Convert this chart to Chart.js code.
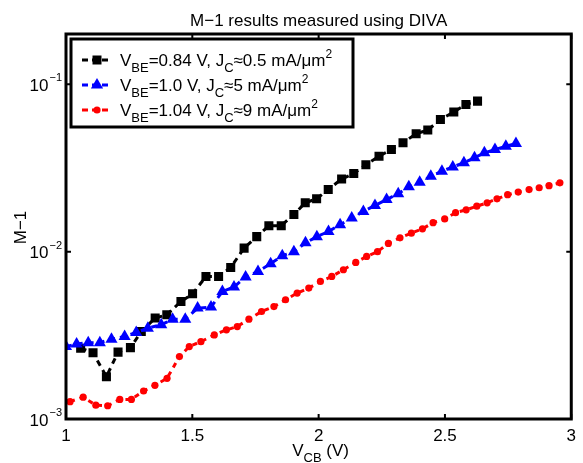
<!DOCTYPE html>
<html>
<head>
<meta charset="utf-8">
<script src="https://cdn.jsdelivr.net/npm/chart.js@4.4.0/dist/chart.umd.min.js"></script>
<style>
html, body { margin: 0; padding: 0; background: #fff; }
#wrap { width: 583px; height: 463px; }
</style>
</head>
<body>
<div id="wrap"><canvas id="m1Chart"></canvas></div>
<script>
// V_CB values (V) and M-1 values
var vcbLow = [1.058, 1.107, 1.16, 1.206, 1.255, 1.298, 1.353, 1.399, 1.455, 1.501, 1.554, 1.604, 1.652, 1.705, 1.755, 1.803, 1.852, 1.902, 1.947,
              1.992, 2.038, 2.091, 2.139, 2.187, 2.239, 2.288, 2.334, 2.386, 2.432, 2.482, 2.535, 2.583, 2.629];
var m1Low = [2.65e-3, 2.49e-3, 1.79e-3, 2.51e-3, 2.67e-3, 3.33e-3, 4.01e-3, 4.20e-3, 5.04e-3, 5.60e-3, 7.11e-3, 7.11e-3, 8.05e-3, 1.05e-2, 1.23e-2, 1.43e-2, 1.43e-2, 1.67e-2, 1.96e-2,
             2.07e-2, 2.35e-2, 2.72e-2, 2.93e-2, 3.31e-2, 3.72e-2, 4.08e-2, 4.48e-2, 5.07e-2, 5.33e-2, 6.17e-2, 6.83e-2, 7.59e-2, 7.94e-2];

var vcbMid = [1.0, 1.042, 1.088, 1.134, 1.18, 1.232, 1.278, 1.324, 1.377, 1.422, 1.472, 1.521, 1.574, 1.619, 1.665, 1.711, 1.76, 1.81, 1.856, 1.902,
              1.948, 1.993, 2.039, 2.085, 2.131, 2.177, 2.223, 2.269, 2.315, 2.357, 2.4, 2.444, 2.488, 2.531, 2.575, 2.617, 2.656, 2.698, 2.741, 2.781];
var m1Mid = [2.71e-3, 2.81e-3, 2.86e-3, 2.86e-3, 3.00e-3, 3.11e-3, 3.29e-3, 3.49e-3, 3.66e-3, 3.95e-3, 3.95e-3, 4.60e-3, 4.67e-3, 5.78e-3, 6.15e-3, 7.06e-3, 7.62e-3, 8.48e-3, 9.46e-3, 1.00e-2,
             1.13e-2, 1.23e-2, 1.32e-2, 1.45e-2, 1.59e-2, 1.74e-2, 1.89e-2, 2.05e-2, 2.22e-2, 2.44e-2, 2.60e-2, 2.82e-2, 3.03e-2, 3.21e-2, 3.40e-2, 3.64e-2, 3.90e-2, 4.08e-2, 4.27e-2, 4.43e-2];

var vcbHigh = [1.016, 1.068, 1.118, 1.165, 1.213, 1.259, 1.307, 1.352, 1.40, 1.449, 1.488, 1.534, 1.587, 1.635, 1.678, 1.724, 1.774, 1.823, 1.869,
               1.915, 1.961, 2.007, 2.052, 2.098, 2.147, 2.19, 2.233, 2.276, 2.322, 2.367, 2.411, 2.453, 2.499, 2.542, 2.584, 2.626, 2.667, 2.706, 2.748,
               2.79, 2.833, 2.873, 2.912, 2.955];
var m1High = [1.27e-3, 1.35e-3, 1.21e-3, 1.20e-3, 1.31e-3, 1.31e-3, 1.47e-3, 1.59e-3, 1.75e-3, 2.36e-3, 2.71e-3, 2.90e-3, 3.18e-3, 3.41e-3, 3.57e-3, 3.95e-3, 4.39e-3, 4.70e-3, 5.16e-3,
              5.66e-3, 6.06e-3, 6.64e-3, 7.11e-3, 7.80e-3, 8.63e-3, 9.37e-3, 1.00e-2, 1.12e-2, 1.21e-2, 1.29e-2, 1.37e-2, 1.49e-2, 1.57e-2, 1.71e-2, 1.78e-2, 1.87e-2, 1.96e-2,
              2.07e-2, 2.19e-2, 2.27e-2, 2.35e-2, 2.41e-2, 2.48e-2, 2.58e-2];

// tick labels
var xTicks = [1, 1.5, 2, 2.5, 3];
var yTicks = [0.001, 0.01, 0.1];
var yTickExp = ['\u22123', '\u22122', '\u22121'];

// legend text pieces
var vbeLabels = ['=0.84 V, J', '=1.0 V, J', '=1.04 V, J'];
var jcLabels = ['\u22480.5 mA/\u03bcm', '\u22485 mA/\u03bcm', '\u22489 mA/\u03bcm'];

var chartTitle = 'M\u22121 results measured using DIVA';

function toPoints(xs, ys) {
    return xs.map(function (x, i) { return { x: x, y: ys[i] }; });
}

var FONT = '"Liberation Sans", Arial, Helvetica, sans-serif';
Chart.defaults.font.family = FONT;
Chart.defaults.color = '#000';

// draw a string made of normal / sub / sup pieces, left aligned at x, baseline y
function drawRich(ctx, x, y, parts, size) {
    parts.forEach(function (p) {
        var s = size, dy = 0;
        if (p.k === 'sub') { s = 13; dy = 6; }
        if (p.k === 'sup') { s = 12; dy = -8; }
        ctx.font = s + 'px ' + FONT;
        ctx.fillText(p.t, x, y + dy);
        x += ctx.measureText(p.t).width;
    });
    return x;
}

function drawMarker(ctx, style, x, y, color) {
    ctx.fillStyle = color;
    ctx.beginPath();
    if (style === 'rect') {
        ctx.rect(x - 4.5, y - 4.5, 9, 9);
    } else if (style === 'triangle') {
        ctx.moveTo(x, y - 7);
        ctx.lineTo(x + 6.1, y + 3.5);
        ctx.lineTo(x - 6.1, y + 3.5);
        ctx.closePath();
    } else {
        ctx.arc(x, y, 3.6, 0, Math.PI * 2);
    }
    ctx.fill();
}

var framePlugin = {
    id: 'frame',
    afterDraw: function (chart) {
        var ctx = chart.ctx, a = chart.chartArea;
        var xs = chart.scales.x, ys = chart.scales.y;
        ctx.save();
        ctx.setLineDash([]);
        ctx.strokeStyle = '#000';

        // inward tick marks
        ctx.lineWidth = 2;
        xTicks.forEach(function (v) {
            var px = xs.getPixelForValue(v);
            ctx.beginPath();
            ctx.moveTo(px, a.bottom); ctx.lineTo(px, a.bottom - 5);
            ctx.moveTo(px, a.top); ctx.lineTo(px, a.top + 5);
            ctx.stroke();
        });
        yTicks.forEach(function (v) {
            var py = ys.getPixelForValue(v);
            ctx.beginPath();
            ctx.moveTo(a.left, py); ctx.lineTo(a.left + 5, py);
            ctx.moveTo(a.right, py); ctx.lineTo(a.right - 5, py);
            ctx.stroke();
        });

        // axes box
        ctx.lineWidth = 3;
        ctx.strokeRect(a.left, a.top, a.right - a.left, a.bottom - a.top);

        // title
        var cx = (a.left + a.right) / 2;
        ctx.fillStyle = '#000';
        ctx.textAlign = 'center';
        ctx.textBaseline = 'alphabetic';
        ctx.font = '17px ' + FONT;
        ctx.fillText(chartTitle, cx, 25.5);

        // y tick labels 10^n
        ctx.textBaseline = 'middle';
        ctx.textAlign = 'left';
        yTicks.forEach(function (v, i) {
            var py = ys.getPixelForValue(v);
            ctx.font = '11px ' + FONT;
            var wExp = ctx.measureText(yTickExp[i]).width;
            ctx.font = '17px ' + FONT;
            var wBase = ctx.measureText('10').width;
            var x0 = a.left - 4 - wExp - wBase - 1;
            ctx.fillText('10', x0, py + 2);
            ctx.font = '11px ' + FONT;
            ctx.fillText(yTickExp[i], x0 + wBase + 1, py - 6);
        });

        // axis titles
        ctx.textBaseline = 'alphabetic';
        var parts = [{ t: 'V' }, { t: 'CB', k: 'sub' }, { t: ' (V)' }];
        var w = 0;
        parts.forEach(function (p) {
            ctx.font = (p.k === 'sub' ? 13 : 17) + 'px ' + FONT;
            w += ctx.measureText(p.t).width;
        });
        drawRich(ctx, cx - w / 2 + 2, 456, parts, 17);

        ctx.save();
        ctx.translate(26, (a.top + a.bottom) / 2 + 1);
        ctx.rotate(-Math.PI / 2);
        ctx.font = '17px ' + FONT;
        ctx.textAlign = 'center';
        ctx.fillText('M\u22121', 0, 0);
        ctx.restore();

        // legend
        var lx = 71, ly = 39, lw = 282, lh = 88;
        ctx.fillStyle = '#fff';
        ctx.fillRect(lx, ly, lw, lh);
        ctx.lineWidth = 3;
        ctx.strokeStyle = '#000';
        ctx.strokeRect(lx, ly, lw, lh);
        chart.data.datasets.forEach(function (ds) {
            var i = ds.legendRow;
            var ry = 60 + i * 25;
            ctx.save();
            ctx.strokeStyle = ds.borderColor;
            ctx.lineWidth = 3;
            ctx.setLineDash([6, 4]);
            ctx.beginPath();
            ctx.moveTo(82, ry); ctx.lineTo(111, ry);
            ctx.stroke();
            ctx.restore();
            drawMarker(ctx, ds.pointStyle, 97, ry, ds.backgroundColor);
            ctx.fillStyle = '#000';
            ctx.textAlign = 'left';
            drawRich(ctx, 120, ry + 6, [
                { t: 'V' }, { t: 'BE', k: 'sub' }, { t: vbeLabels[i] },
                { t: 'C', k: 'sub' }, { t: jcLabels[i] }, { t: '2', k: 'sup' }
            ], 17);
        });
        ctx.restore();
    }
};

var ctx = document.getElementById('m1Chart');

var m1Chart = new Chart(ctx, {
    type: 'line',
    data: {
        datasets: [
            {
                data: toPoints(vcbMid, m1Mid),
                legendRow: 1,
                borderColor: '#0000ff',
                backgroundColor: '#0000ff',
                borderWidth: 3,
                borderDash: [6, 5],
                pointStyle: 'triangle',
                pointRadius: 7,
                pointBorderWidth: 0,
                order: 1
            },
            {
                data: toPoints(vcbLow, m1Low),
                legendRow: 0,
                borderColor: '#000000',
                backgroundColor: '#000000',
                borderWidth: 3,
                borderDash: [6, 5],
                pointStyle: 'rect',
                pointRadius: 6.4,
                pointBorderWidth: 0,
                order: 2
            },
            {
                data: toPoints(vcbHigh, m1High),
                legendRow: 2,
                borderColor: '#ff0000',
                backgroundColor: '#ff0000',
                borderWidth: 3,
                borderDash: [5, 5],
                pointStyle: 'circle',
                pointRadius: 3.6,
                pointBorderWidth: 0,
                order: 3
            }
        ]
    },
    options: {
        responsive: true,
        maintainAspectRatio: false,
        animation: false,
        layout: { padding: { left: 0, right: 9, top: 34, bottom: 0 } },
        plugins: {
            legend: { display: false },
            tooltip: { enabled: false },
            title: { display: false }
        },
        scales: {
            x: {
                type: 'linear',
                min: 1,
                max: 3,
                afterBuildTicks: function (scale) {
                    scale.ticks = xTicks.map(function (v) { return { value: v }; });
                },
                afterFit: function (scale) { scale.height = 44; },
                grid: { display: false, drawTicks: false },
                border: { display: false },
                ticks: {
                    padding: 7,
                    color: '#000',
                    font: { size: 17 },
                    maxRotation: 0,
                    callback: function (v) { return String(v); }
                }
            },
            y: {
                type: 'logarithmic',
                min: 0.001,
                max: 0.2,
                afterFit: function (scale) { scale.width = 66; },
                grid: { display: false, drawTicks: false },
                border: { display: false },
                ticks: { display: false }
            }
        }
    },
    plugins: [framePlugin]
});
</script>
</body>
</html>
